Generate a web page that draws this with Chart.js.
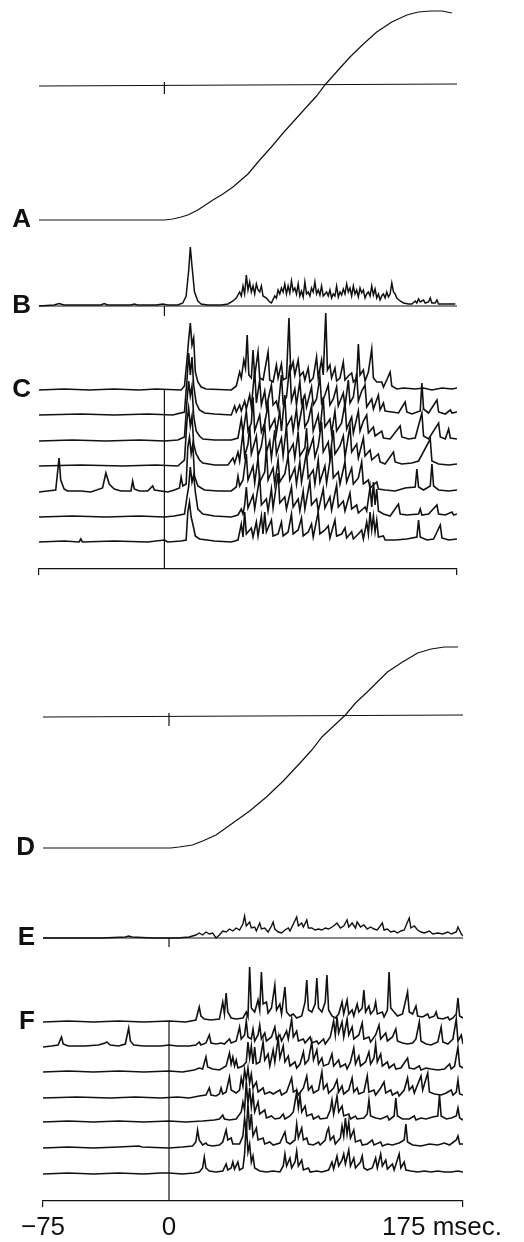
<!DOCTYPE html>
<html>
<head>
<meta charset="utf-8">
<title>Position traces and EMG, A-F</title>
<script src="https://cdn.jsdelivr.net/npm/chart.js@4.4.1/dist/chart.umd.min.js"></script>
<style>
  html, body { margin: 0; padding: 0; background: #fff; }
  #wrap { position: relative; width: 524px; height: 1242px; }
  canvas { position: absolute; left: 0; }
  #top { top: 0; }
  #bottom { top: 600px; }
</style>
</head>
<body>
<div id="wrap">
  <canvas id="top" width="524" height="600"></canvas>
  <canvas id="bottom" width="524" height="642"></canvas>
</div>
<script>
// ---- data: [msec, amplitude] pairs ----
const sweep = [-75, 175];
const xTickValues = [-75, 0, 175];
const xTickText = ['\u221275', '0', '175 msec.'];

// A / D: position traces, with the horizontal reference level (start, end of sweep)
const posA = [[-75,0],[0,0],[5,1],[10,3],[14,5],[20,10],[29,20],[35,26],[41,33],[50,46],[57,60],[64,73],[71,87],[78,100],[85,113],[91,124],[96,135],[104,150],[111,163],[119,176],[127,188],[136,198],[145,205],[152,208],[159,209],[166,209],[172,207]];
const refA = [134, 136];
const posD = [[-75,0],[1,0],[6,1],[10,2],[14,3],[20,7],[28,13],[38,25],[48,37],[58,51],[68,67],[78,85],[85,98],[91,111],[98,122],[105,133],[111,145],[118,156],[124,166],[130,176],[139,186],[148,195],[156,199],[164,201],[172,201]];
const refD = [131, 133];

// B / E: averaged activity
const avgB = [[-75,0],[-66,1],[-63,2.5],[-60,1],[-50,1],[-38,1],[-36,2.5],[-34,1],[-20,1],[-18,2],[-16,1],[-5,1],[-1,2],[2,1],[8,1],[11,3],[13,10],[14.5,35],[15.5,59],[16.5,40],[18,14],[20,5],[22,2],[26,1],[34,1],[38,2],[41,5],[43,8],[45,14],[46,10],[47,20],[48,12],[49,31],[50,16],[51,24],[52,14],[53,20],[54,12],[55,22],[56,16],[57,14],[58,20],[59,10],[61,8],[63,4],[64,3],[66,10],[67,8],[68,16],[69,12],[70,18],[71,14],[72,22],[73,12],[74,20],[75,13],[76,25],[77,15],[78,18],[79,12],[80,22],[81,10],[82,15],[83,9],[84,24],[85,12],[86,14],[87,10],[88,18],[89,14],[90,24],[91,12],[92,16],[93,11],[94,20],[95,10],[96,12],[97,14],[98,10],[99,16],[100,8],[101,12],[102,10],[103,20],[104,9],[105,14],[106,11],[107,17],[108,12],[109,22],[110,14],[111,18],[112,10],[113,20],[114,12],[115,16],[116,9],[117,18],[118,13],[119,16],[120,8],[121,12],[122,14],[123,10],[124,20],[125,11],[126,17],[127,8],[128,12],[129,6],[130,10],[131,12],[132,8],[133,14],[134,9],[135,12],[136,23],[137,14],[138,12],[139,8],[141,5],[143,3],[146,2],[148,2],[150,5],[151,3],[152,7],[153,4],[155,6],[156,3],[158,4],[159,8],[160,3],[162,3],[163,6],[164,2],[167,2],[171,2],[174,2]];
const avgE = [[-75,0],[-40,0],[-26,1],[-24,2],[-22,1],[-10,0],[5,0],[12,1],[16,3],[18,5],[20,3],[22,6],[24,4],[26,5],[28,0],[30,3],[32,7],[34,6],[36,9],[38,7],[40,10],[42,8],[44,14],[45,22],[46,12],[48,16],[49,10],[51,11],[52,7],[54,15],[55,9],[57,10],[59,6],[61,12],[62,16],[63,9],[65,6],[67,5],[69,8],[71,10],[72,7],[74,14],[76,21],[77,12],[79,15],[80,11],[82,18],[83,10],[85,10],[87,8],[89,9],[91,8],[93,10],[95,9],[98,12],[100,15],[102,10],[104,12],[106,18],[107,11],[109,15],[111,10],[112,16],[114,11],[116,13],[118,9],[120,11],[122,9],[124,8],[127,15],[128,8],[130,9],[132,6],[134,7],[136,5],[138,7],[140,8],[143,20],[144,10],[146,12],[148,8],[150,6],[152,5],[155,7],[157,4],[160,5],[163,4],[166,6],[168,4],[171,6],[172,11],[174,4],[175,2]];

// C: seven single sweeps (top block)
const c1 = [[-75,0],[-60,1],[-45,0],[-30,1],[-15,0],[-5,1],[10,0],[12,4],[13.5,30],[14.5,50],[15.5,67],[16.5,45],[17.5,52],[18.5,18],[20,8],[22,3],[25,1],[40,0],[43,4],[45,18],[46,12],[47.5,30],[48.5,22],[49.5,55],[50.5,15],[52,12],[53,40],[54,14],[56,38],[57,12],[59,10],[62,38],[63,10],[65,8],[67,25],[68,12],[70,26],[71,10],[73,12],[74.5,72],[75.5,20],[77,28],[78,15],[80,30],[81,14],[83,18],[84,10],[86,22],[87,8],[89,12],[91,33],[92,12],[94,30],[95,15],[96.5,77],[97.5,20],[99,25],[100,12],[102,22],[103,9],[105,12],[107,28],[108,10],[110,14],[112,17],[113,8],[115,12],[116,46],[117,15],[119,20],[120,9],[122,18],[124,41],[125,12],[127,8],[130,8],[131,3],[133,10],[135,18],[136,4],[139,1],[143,2],[150,1],[155,2],[160,0],[166,2],[172,1],[175,2]];
const c2 = [[-75,0],[-50,1],[-30,0],[-10,1],[5,0],[12,3],[13.5,35],[14.5,62],[15.5,40],[16.5,58],[17.5,30],[19,12],[21,5],[24,2],[30,1],[40,0],[42,9],[43,3],[45,10],[46,4],[48,14],[49,6],[51,20],[52,8],[54,45],[55,12],[57,35],[58,10],[60,24],[61,8],[64,30],[65,10],[67,14],[68,6],[70,40],[71,12],[73,18],[75,50],[76,14],[78,26],[79,10],[81,34],[82,12],[84,20],[85,8],[88,28],[89,10],[91,16],[93,38],[94,12],[96,20],[98,30],[99,10],[101,16],[103,28],[104,9],[107,22],[108,8],[110,35],[111,12],[113,18],[115,42],[116,14],[118,24],[120,30],[121,8],[124,16],[125,6],[128,20],[129,5],[131,12],[132,4],[136,3],[140,2],[144,13],[145,3],[148,1],[153,4],[154,32],[155,6],[158,2],[163,15],[164,3],[168,1],[171,5],[172,2],[175,3]];
const c3 = [[-75,0],[-55,1],[-35,0],[-15,1],[0,0],[8,1],[12,4],[13.5,40],[14.5,60],[15.5,45],[16.5,55],[17.5,25],[19,10],[21,5],[23,2],[30,1],[40,1],[44,3],[46,22],[47,8],[49,30],[50,10],[52,18],[53,44],[54,10],[57,26],[58,9],[60,18],[62,36],[63,12],[66,22],[67,8],[69,30],[70,10],[72,46],[73,14],[76,24],[77,10],[79,32],[80,12],[83,40],[84,14],[86,20],[88,35],[89,10],[92,26],[93,9],[95,44],[96,14],[99,22],[100,8],[102,30],[103,10],[106,18],[108,38],[109,12],[112,24],[113,8],[116,30],[117,10],[119,20],[121,26],[122,8],[125,14],[126,5],[130,10],[131,3],[135,2],[141,15],[142,4],[146,2],[150,3],[154,28],[155,5],[158,2],[164,18],[165,4],[168,2],[170,12],[171,3],[175,2]];
const c4 = [[-75,0],[-50,1],[-25,0],[-5,1],[8,0],[12,6],[13.5,45],[14.5,58],[15.5,40],[16.5,50],[17.5,22],[19,12],[21,6],[23,3],[30,1],[38,1],[41,8],[42,3],[44,14],[45,5],[47,34],[48,10],[50,22],[51,40],[52,12],[55,30],[56,10],[58,20],[60,42],[61,14],[63,25],[64,8],[66,36],[67,12],[70,28],[71,10],[73,40],[74,12],[77,22],[78,8],[80,34],[81,10],[84,18],[85,38],[86,12],[89,28],[90,9],[92,20],[94,44],[95,14],[98,24],[99,8],[101,36],[102,12],[105,20],[107,30],[108,9],[111,40],[112,14],[115,22],[116,8],[119,28],[120,10],[123,16],[124,6],[128,12],[129,4],[132,2],[137,14],[138,4],[142,2],[148,3],[152,5],[159,27],[160,5],[164,2],[170,1],[175,2]];
const c5 = [[-75,0],[-70,1],[-65,2],[-63,34],[-62,12],[-60,3],[-58,1],[-50,1],[-44,0],[-37,4],[-35,19],[-33,8],[-30,3],[-26,1],[-20,1],[-19,11],[-18,3],[-15,1],[-10,1],[-7,6],[-6,2],[-2,1],[2,0],[6,2],[9,4],[10,15],[11,6],[13,8],[14,45],[15,55],[16,38],[17,48],[18,16],[20,6],[24,2],[32,1],[40,1],[43,5],[44,16],[45,6],[47,12],[49,38],[50,12],[53,26],[54,9],[56,34],[57,10],[60,20],[61,45],[62,12],[65,24],[66,8],[68,32],[69,10],[72,18],[74,36],[75,12],[78,24],[79,8],[81,30],[82,10],[85,40],[86,14],[89,22],[90,8],[92,32],[93,10],[96,26],[97,9],[100,42],[101,14],[104,20],[105,8],[108,30],[109,10],[112,24],[113,8],[116,14],[118,30],[119,8],[122,12],[123,4],[127,10],[128,3],[132,2],[138,1],[144,4],[150,5],[151,23],[152,5],[155,2],[159,6],[160,28],[161,6],[164,2],[170,1],[175,2]];
const c6 = [[-75,0],[-55,1],[-35,0],[-15,1],[0,0],[6,1],[12,3],[13.5,20],[14.5,30],[15.5,50],[16.5,35],[17.5,42],[18.5,25],[20,8],[23,3],[30,1],[40,0],[44,2],[46,8],[47,3],[48,12],[49,30],[50,9],[53,22],[54,8],[57,40],[58,12],[61,18],[62,6],[64,28],[65,9],[68,44],[69,14],[72,20],[73,8],[76,30],[77,10],[80,18],[81,6],[83,26],[84,8],[87,36],[88,12],[91,18],[92,6],[95,28],[96,9],[99,20],[100,7],[103,32],[104,10],[107,16],[108,6],[111,24],[112,8],[115,12],[116,4],[120,10],[121,6],[123,30],[124,10],[125,35],[126,12],[127,28],[128,6],[131,3],[135,1],[140,13],[141,3],[145,2],[152,3],[153,8],[154,2],[158,3],[163,12],[164,3],[168,2],[172,5],[173,2],[175,3]];
const c7 = [[-75,0],[-60,1],[-51,0],[-50,3],[-49,0],[-30,1],[-10,0],[0,2],[2,0],[10,1],[13,2],[14,30],[15,40],[16,25],[17,18],[18.5,6],[21,3],[30,1],[40,0],[44,2],[46,18],[47,5],[48,30],[49,8],[52,14],[53,5],[55,20],[56,6],[58,26],[59,8],[60,30],[61,10],[62,14],[64,22],[65,6],[68,8],[70,20],[71,6],[74,10],[76,28],[77,8],[80,12],[82,24],[83,6],[86,10],[88,18],[89,5],[92,30],[93,8],[96,12],[98,16],[99,4],[102,22],[103,6],[106,8],[108,14],[109,4],[112,10],[113,3],[116,8],[118,12],[119,3],[121,20],[122,8],[123,30],[124,12],[125,26],[126,10],[127,22],[128,5],[131,6],[132,2],[138,2],[145,3],[151,5],[152,22],[153,5],[157,2],[161,3],[165,17],[166,4],[170,2],[175,3]];

// F: seven single sweeps (bottom block)
const f1 = [[-75,0],[-60,1],[-45,0],[-30,1],[-15,0],[0,1],[10,0],[16,2],[18,15],[19,6],[21,3],[25,2],[30,3],[32,20],[33,8],[34,29],[35,10],[37,4],[40,3],[44,4],[46,10],[47,5],[48,55],[49,14],[51,10],[53,22],[54,12],[55,50],[56,18],[58,20],[59,9],[61,14],[63,37],[64,12],[66,18],[67,8],[69,35],[70,10],[72,6],[74,8],[76,4],[79,6],[81,20],[82,42],[83,12],[85,10],[87,18],[88,44],[89,14],[91,10],[93,20],[94,47],[95,12],[97,6],[99,4],[101,8],[103,20],[104,8],[106,22],[107,8],[109,12],[110,6],[112,18],[113,10],[115,14],[116,32],[117,10],[119,16],[120,8],[122,12],[123,20],[124,8],[127,10],[128,5],[130,12],[131,50],[132,14],[134,10],[136,6],[139,8],[142,30],[143,10],[145,8],[147,16],[148,6],[151,5],[154,8],[155,4],[158,6],[159,10],[160,4],[163,3],[166,5],[167,2],[169,4],[171,8],[172,24],[173,6],[175,4]];
const f2 = [[-75,0],[-70,1],[-66,2],[-64,10],[-63,3],[-60,1],[-50,1],[-42,2],[-38,4],[-37,5],[-35,2],[-30,1],[-26,3],[-24,19],[-23,6],[-21,2],[-15,1],[-5,1],[0,2],[5,1],[12,1],[16,2],[18,5],[19,2],[22,4],[24,12],[25,4],[28,3],[31,4],[33,3],[36,8],[37,4],[40,6],[42,20],[43,8],[45,12],[46,26],[47,10],[49,8],[50,18],[51,6],[53,12],[54,22],[55,8],[57,14],[58,6],[61,10],[63,20],[64,8],[66,12],[67,6],[70,16],[71,8],[73,28],[74,10],[76,16],[77,6],[80,8],[81,4],[84,10],[85,4],[88,6],[89,3],[92,8],[93,3],[96,10],[98,26],[99,12],[100,30],[101,14],[103,25],[104,10],[106,28],[107,12],[109,20],[110,8],[113,12],[115,24],[116,8],[119,10],[120,5],[123,12],[125,22],[126,8],[129,14],[130,6],[133,10],[135,18],[136,6],[139,4],[142,3],[145,4],[147,8],[149,25],[150,6],[153,3],[156,2],[160,5],[162,20],[163,5],[166,3],[169,8],[171,28],[172,6],[174,12],[175,3]];
const f3 = [[-75,0],[-60,1],[-45,0],[-30,1],[-15,0],[0,1],[8,0],[15,2],[18,4],[20,3],[22,15],[23,5],[26,3],[30,2],[34,6],[36,19],[37,8],[38,15],[39,6],[40,12],[41,4],[44,6],[46,10],[47,30],[48,14],[49,26],[50,8],[51,25],[52,8],[54,10],[56,30],[57,12],[59,18],[60,6],[62,22],[63,10],[65,34],[66,14],[68,26],[69,10],[71,16],[72,6],[75,10],[76,4],[78,8],[80,20],[81,8],[83,12],[85,30],[86,12],[88,22],[89,8],[91,14],[92,6],[95,8],[97,18],[98,6],[101,12],[102,5],[105,8],[106,3],[108,10],[110,24],[111,8],[113,16],[114,6],[117,10],[119,20],[120,8],[122,14],[123,28],[124,10],[126,18],[127,6],[130,10],[131,4],[134,8],[135,3],[138,4],[142,14],[143,4],[146,3],[149,6],[150,2],[153,4],[156,3],[160,2],[164,3],[167,8],[168,3],[170,6],[172,25],[173,6],[175,4]];
const f4 = [[-75,0],[-55,1],[-35,0],[-20,1],[-5,0],[5,1],[12,0],[18,2],[22,3],[24,10],[25,3],[28,2],[30,4],[31,10],[32,4],[34,6],[36,21],[37,8],[40,5],[42,8],[43,20],[44,12],[45,28],[46,18],[47,30],[48,15],[49,24],[50,10],[52,16],[53,6],[56,10],[57,4],[60,6],[62,4],[66,8],[67,3],[70,6],[73,20],[74,6],[76,8],[77,3],[80,10],[82,22],[83,8],[85,12],[86,5],[89,8],[91,26],[92,9],[94,14],[95,5],[98,10],[100,18],[101,6],[103,12],[104,4],[107,8],[109,20],[110,6],[112,10],[113,4],[116,6],[118,22],[119,6],[122,8],[123,3],[126,10],[128,16],[129,5],[132,8],[133,3],[136,6],[137,2],[140,8],[142,20],[143,8],[145,12],[146,5],[150,22],[151,8],[154,25],[155,6],[158,4],[162,3],[165,5],[168,8],[169,3],[171,6],[172,18],[173,4],[175,3]];
const f5 = [[-75,0],[-60,1],[-45,0],[-30,1],[-15,0],[0,1],[10,0],[20,1],[27,2],[30,3],[32,7],[33,3],[36,2],[40,3],[43,10],[44,20],[45,12],[46,40],[47,18],[48,34],[49,15],[50,28],[51,10],[53,20],[54,8],[57,12],[58,4],[61,6],[63,3],[66,4],[68,8],[69,3],[72,6],[74,10],[75,20],[76,30],[77,14],[78,26],[79,10],[81,16],[82,6],[85,8],[86,3],[89,6],[90,3],[94,4],[96,12],[97,22],[98,8],[100,26],[101,10],[103,16],[104,6],[107,8],[108,3],[111,6],[112,3],[116,4],[118,8],[119,22],[120,6],[123,4],[126,3],[130,6],[131,2],[134,6],[135,24],[136,6],[139,3],[143,3],[146,6],[147,2],[150,4],[153,3],[157,5],[160,6],[161,27],[162,6],[165,3],[168,4],[171,6],[172,14],[173,4],[175,2]];
const f6 = [[-75,0],[-60,1],[-45,0],[-30,1],[-18,2],[-16,1],[0,0],[8,1],[14,2],[16,6],[17,18],[18,8],[20,3],[22,5],[23,3],[26,2],[30,3],[32,6],[34,18],[35,8],[37,10],[38,4],[42,4],[44,12],[45,30],[46,16],[47,44],[48,18],[49,34],[50,12],[52,20],[53,8],[56,10],[57,4],[60,6],[62,3],[66,5],[69,16],[70,6],[72,4],[75,8],[76,24],[77,10],[79,20],[80,8],[82,10],[83,4],[86,3],[89,6],[90,3],[93,8],[94,16],[95,20],[96,8],[98,12],[99,4],[102,10],[103,22],[104,12],[105,30],[106,14],[107,26],[108,10],[110,18],[111,6],[114,8],[115,3],[118,4],[121,8],[122,3],[126,6],[127,2],[130,4],[133,3],[137,5],[140,8],[141,24],[142,6],[145,3],[150,2],[155,4],[160,3],[164,5],[167,3],[171,8],[172,12],[173,4],[175,4]];
const f7 = [[-75,0],[-60,1],[-45,0],[-30,1],[-15,0],[-5,1],[0,1],[8,0],[15,1],[18,2],[20,6],[21,17],[22,6],[24,3],[28,2],[32,3],[34,10],[35,4],[37,6],[38,12],[39,5],[41,12],[42,4],[44,6],[45,20],[46,50],[47,22],[48,30],[49,12],[50,18],[51,6],[54,3],[58,2],[62,3],[66,2],[68,8],[69,20],[70,8],[72,16],[73,6],[75,12],[76,23],[77,8],[79,14],[80,4],[83,6],[84,2],[88,3],[91,2],[95,4],[97,12],[98,5],[100,18],[101,8],[103,14],[104,20],[105,10],[107,24],[108,8],[110,16],[111,6],[114,12],[115,18],[116,6],[118,4],[121,6],[123,16],[124,6],[126,20],[127,8],[129,14],[130,5],[133,10],[134,4],[137,20],[138,6],[140,12],[141,4],[144,3],[148,2],[152,3],[156,2],[160,3],[164,2],[168,2],[172,3],[175,2]];

// ---- layout: baseline of every row on its panel's vertical scale ----
const rowsTop = { A: 349, B: 263, C: [179, 154, 128, 103, 77, 52, 27] };
const rowsBottom = { D: 353, E: 263, F: [179, 154, 129, 103, 79, 53, 27] };

const INK = '#111';
const FONT = '"Liberation Sans", Arial, Helvetica, sans-serif';

function toPoints(trace, base) {
  return trace.map(function (p) { return { x: p[0], y: base + p[1] }; });
}
function level(ref, base) {
  return [{ x: sweep[0], y: base + ref[0] }, { x: sweep[1], y: base + ref[1] }];
}
function line(data, width) {
  return { data: data, borderColor: INK, borderWidth: width || 1.2, pointRadius: 0, tension: 0, fill: false };
}

// zero lines, onset ticks, the 0-msec vertical and x labels
const marks = {
  id: 'marks',
  afterDatasetsDraw: function (chart, args, opts) {
    const ctx = chart.ctx, xs = chart.scales.x, ys = chart.scales.y;
    const x0 = xs.getPixelForValue(0);
    ctx.save();
    ctx.strokeStyle = INK;
    ctx.lineWidth = 1.2;
    (opts.rules || []).forEach(function (v) {
      const y = ys.getPixelForValue(v);
      ctx.beginPath(); ctx.moveTo(xs.left, y); ctx.lineTo(xs.right, y); ctx.stroke();
    });
    (opts.onsetTicks || []).forEach(function (m) {
      const y = ys.getPixelForValue(m.at);
      ctx.beginPath(); ctx.moveTo(x0, y - m.up); ctx.lineTo(x0, y + m.down); ctx.stroke();
    });
    if (opts.onsetFrom != null) {
      ctx.beginPath();
      ctx.moveTo(x0, ys.getPixelForValue(opts.onsetFrom));
      ctx.lineTo(x0, chart.chartArea.bottom);
      ctx.stroke();
    }
    if (opts.xLabels) {
      ctx.fillStyle = INK;
      ctx.font = '26px ' + FONT;
      ctx.textAlign = 'center';
      ctx.textBaseline = 'alphabetic';
      xTickValues.forEach(function (v, i) {
        ctx.fillText(xTickText[i], xs.getPixelForValue(v) + opts.xLabelShift[i], chart.chartArea.bottom + 34);
      });
    }
    ctx.restore();
  }
};

function makePanel(id, datasets, rowLabels, axisHeight, yWidth, padRight, yMax, markOpts) {
  return new Chart(document.getElementById(id), {
    type: 'line',
    data: { datasets: datasets },
    plugins: [marks],
    options: {
      responsive: false,
      devicePixelRatio: 1,
      animation: false,
      layout: { padding: { left: 0, right: padRight, top: 0, bottom: 0 } },
      plugins: { legend: { display: false }, tooltip: { enabled: false }, marks: markOpts },
      scales: {
        x: {
          type: 'linear', min: sweep[0], max: sweep[1],
          afterBuildTicks: function (s) { s.ticks = sweep.map(function (v) { return { value: v }; }); },
          afterFit: function (s) { s.height = axisHeight; s.paddingLeft = 0; s.paddingRight = 0; },
          ticks: { display: false },
          grid: { display: true, drawOnChartArea: false, drawTicks: true, tickLength: 6, color: INK, lineWidth: 1.2 },
          border: { display: true, color: INK, width: 1.2 }
        },
        y: {
          type: 'linear', min: 0, max: yMax,
          afterBuildTicks: function (s) {
            s.ticks = Object.keys(rowLabels).map(Number).sort(function (a, b) { return a - b; })
              .map(function (v) { return { value: v }; });
          },
          afterFit: function (s) { s.width = yWidth; s.paddingTop = 0; s.paddingBottom = 0; },
          ticks: {
            autoSkip: false, padding: 8, color: INK,
            font: { family: FONT, size: 26, weight: 'bold' },
            callback: function (v) { return rowLabels[v] || ''; }
          },
          grid: { display: false, drawTicks: false },
          border: { display: false }
        }
      }
    }
  });
}

// top block: A, B, C
const topSets = [
  line(toPoints(posA, rowsTop.A)),
  line(level(refA, rowsTop.A)),
  line(toPoints(avgB, rowsTop.B), 1.5)
].concat([c1, c2, c3, c4, c5, c6, c7].map(function (t, i) {
  return line(toPoints(t, rowsTop.C[i]), 1.6);
}));
const topLabels = {};
topLabels[rowsTop.A] = 'A'; topLabels[rowsTop.B] = 'B'; topLabels[rowsTop.C[0]] = 'C';
makePanel('top', topSets, topLabels, 31, 39, 67, 569, {
  rules: [rowsTop.B],
  onsetTicks: [{ at: rowsTop.A + refA[0], up: 4, down: 8 }, { at: rowsTop.B, up: 0, down: 10 }],
  onsetFrom: rowsTop.C[0]
});

// bottom block: D, E, F
const bottomSets = [
  line(toPoints(posD, rowsBottom.D)),
  line(level(refD, rowsBottom.D)),
  line(toPoints(avgE, rowsBottom.E), 1.4)
].concat([f1, f2, f3, f4, f5, f6, f7].map(function (t, i) {
  return line(toPoints(t, rowsBottom.F[i]), 1.6);
}));
const bottomLabels = {};
bottomLabels[rowsBottom.D] = 'D'; bottomLabels[rowsBottom.E] = 'E'; bottomLabels[rowsBottom.F[0]] = 'F';
makePanel('bottom', bottomSets, bottomLabels, 41, 43, 61, 601, {
  rules: [rowsBottom.E],
  onsetTicks: [{ at: rowsBottom.D + refD[0], up: 4, down: 9 }, { at: rowsBottom.E, up: 0, down: 9 }],
  onsetFrom: rowsBottom.F[0],
  xLabels: true,
  xLabelShift: [0, 0, -21]
});
</script>
</body>
</html>
